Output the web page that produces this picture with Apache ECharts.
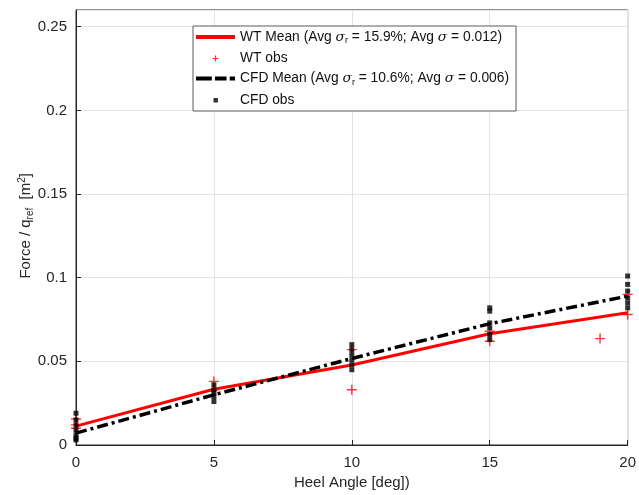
<!DOCTYPE html>
<html><head><meta charset="utf-8">
<script src="https://cdn.jsdelivr.net/npm/echarts@6/dist/echarts.min.js"></script>
<style>html,body{margin:0;padding:0;background:#fff}#c{width:639px;height:495px}</style>
</head><body><div id="c"></div>
<script>
const heelAngles = [0, 5, 10, 15, 20];
const wtMean = [0.0113, 0.0333, 0.0478, 0.0665, 0.0790];
const cfdMean = [0.0071, 0.0300, 0.0517, 0.0725, 0.0890];
const wtObs = [[0,0.0155],[0,0.0120],[0,0.0100],[5,0.0380],[5,0.0330],[10,0.0570],[10,0.0330],[15,0.0620],[15,0.0680],[19,0.0636],[20,0.0900],[20,0.0780]];
const cfdObs = [[0,0.019],[0,0.015],[0,0.012],[0,0.009],[0,0.006],[0,0.004],[0,0.003],
  [5,0.036],[5,0.033],[5,0.031],[5,0.029],[5,0.026],
  [10,0.060],[10,0.057],[10,0.054],[10,0.051],[10,0.048],[10,0.045],
  [15,0.082],[15,0.080],[15,0.073],[15,0.070],[15,0.066],[15,0.063],
  [20,0.101],[20,0.096],[20,0.092],[20,0.088],[20,0.085],[20,0.082]];
const seriesNames = ['WT Mean', 'WT obs', 'CFD Mean', 'CFD obs'];
const legendLabels = {
  'WT Mean': 'WT Mean (Avg {s|σ}{sub|r} = 15.9%; Avg {s|σ} = 0.012)',
  'WT obs': 'WT obs',
  'CFD Mean': 'CFD Mean (Avg {s|σ}{sub|r} = 10.6%; Avg {s|σ} = 0.006)',
  'CFD obs': 'CFD obs'
};
const xTicks = [0, 5, 10, 15, 20];
const yTicks = [0, 0.05, 0.1, 0.15, 0.2, 0.25];

const FONT = 'Liberation Sans, Arial, Helvetica, sans-serif';
const plusPath = 'path://M4.3,0H5.7V4.3H10V5.7H5.7V10H4.3V5.7H0V4.3H4.3Z';
// legend icons (tiny corner dots only fix the icon box so the glyph stays small)
const corners = 'M0,0h0.01v0.01h-0.01z M14,14h0.01v0.01h-0.01z ';
const legendIcons = {
  'WT Mean': 'path://M0,0h39v4h-39z',
  'WT obs': 'path://' + corners + 'M6.4,4H7.6V6.4H10V7.6H7.6V10H6.4V7.6H4V6.4H6.4Z',
  'CFD Mean': 'path://M0,0h15v4h-15z M18,0h11v4h-11z M32,0h5v4h-5z',
  'CFD obs': 'path://' + corners + 'M5,5h4.4v4.4h-4.4z'
};
const chart = echarts.init(document.getElementById('c'), null, {renderer: 'canvas'});
const axisCommon = {
  axisLine: {show: true, lineStyle: {color: '#262626', width: 1}},
  axisTick: {show: true, inside: true, length: 5, lineStyle: {color: '#262626'}},
  splitLine: {show: true, lineStyle: {color: '#e3e3e3', width: 1}},
  axisLabel: {color: '#262626', fontSize: 15, fontFamily: FONT}
};
chart.setOption({
  backgroundColor: '#fff',
  animation: false,
  grid: {left: 76, right: 8, top: 10, bottom: 46, show: true, borderColor: '#262626', borderWidth: 1},
  xAxis: Object.assign({}, axisCommon, {
    type: 'value', min: xTicks[0], max: xTicks[xTicks.length-1], interval: 5,
    name: 'Heel Angle [deg])', nameLocation: 'middle', nameGap: 30,
    nameTextStyle: {color: '#262626', fontSize: 15, fontFamily: FONT},
    axisLabel: Object.assign({}, axisCommon.axisLabel, {margin: 10})
  }),
  yAxis: Object.assign({}, axisCommon, {
    type: 'value', min: 0, max: 0.26, interval: 0.05,
    axisLabel: Object.assign({}, axisCommon.axisLabel, {margin: 9, showMaxLabel: false,
      formatter: v => (yTicks.some(t => Math.abs(t - v) < 1e-9) ? String(+v.toFixed(2)) : '')})
  }),
  graphic: [{
    type: 'text', left: 17, top: 173, rotation: Math.PI/2,
    style: {
      text: 'Force / q{sub|ref}  [m{sup|2}]',
      fill: '#262626', font: '15px ' + FONT,
      rich: {sub: {fontSize: 10, verticalAlign: 'bottom', padding: [8,0,0,0], fill: '#262626', fontFamily: FONT},
             sup: {fontSize: 10, verticalAlign: 'top', padding: [0,0,8,0], fill: '#262626', fontFamily: FONT}}
    }
  }],
  legend: {
    orient: 'vertical', left: 193, top: 26, padding: [4, 7, 4, 3], itemGap: 6,
    itemWidth: 39, itemHeight: 14,
    backgroundColor: '#fff', borderColor: '#5a5a5a', borderWidth: 1,
    data: seriesNames.map(n => ({name: n, icon: legendIcons[n]})),
    formatter: n => legendLabels[n],
    textStyle: {color: '#111', fontSize: 13.8, fontFamily: FONT,
      rich: {s: {fontStyle: 'italic', fontSize: 13.8, fontFamily: 'DejaVu Serif, serif', color: '#111'},
             sub: {fontSize: 9, verticalAlign: 'bottom', padding: [8,0,0,0], fontFamily: FONT, color: '#111'}}}
  },
  series: [
    {name: seriesNames[0], type: 'line', data: heelAngles.map((x,i)=>[x, wtMean[i]]), showSymbol: false, symbol: 'none',
     lineStyle: {color: '#ff0000', width: 3}, itemStyle: {color: '#ff0000'}, z: 2},
    {name: seriesNames[1], type: 'scatter', data: wtObs, symbol: plusPath, symbolSize: 10,
     itemStyle: {color: '#ff0000'}, z: 3},
    {name: seriesNames[2], type: 'line', data: heelAngles.map((x,i)=>[x, cfdMean[i]]), showSymbol: false, symbol: 'none',
     lineStyle: {color: '#000', width: 3.5, type: [11, 4, 3, 4]}, itemStyle: {color: '#000'}, z: 4},
    {name: seriesNames[3], type: 'scatter', data: cfdObs, symbol: 'rect', symbolSize: 5,
     itemStyle: {color: '#000'}, z: 5}
  ]
});
</script></body></html>
